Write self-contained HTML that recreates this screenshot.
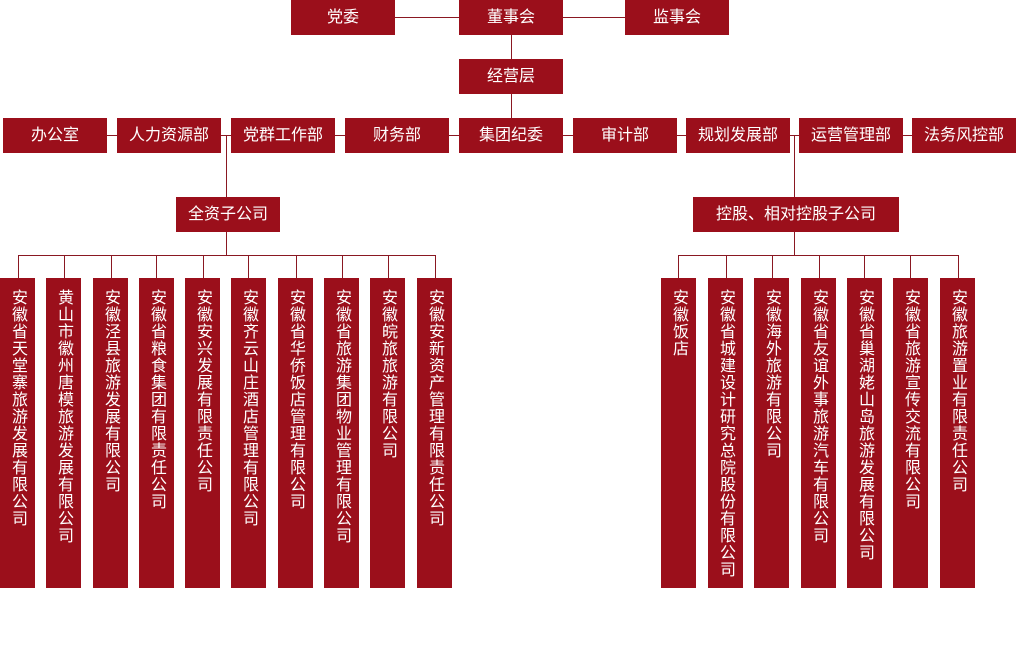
<!DOCTYPE html>
<html><head><meta charset="utf-8"><style>
body{margin:0;width:1018px;height:647px;background:#fff;position:relative;overflow:hidden;font-family:"Liberation Sans","Noto Sans CJK SC",sans-serif}
.b{position:absolute;background:#9b0f1b;color:#fff;font-size:16px;text-align:center;box-sizing:border-box}
.h{height:35px;line-height:35px;width:104px}
.v{top:278px;height:310px;width:35px;writing-mode:vertical-rl;padding-top:11px;line-height:35px;font-size:16px;letter-spacing:1px;text-align:left}
.l{position:absolute;background:#8a1822}
</style></head><body>
<!-- lines -->
<div class="l" style="left:395px;top:17px;width:64px;height:1px"></div>
<div class="l" style="left:563px;top:17px;width:62px;height:1px"></div>
<div class="l" style="left:511px;top:35px;width:1px;height:24px"></div>
<div class="l" style="left:511px;top:94px;width:1px;height:24px"></div>
<div class="l" style="left:3px;top:135px;width:1010px;height:1px"></div>
<div class="l" style="left:226px;top:135px;width:1px;height:62px"></div>
<div class="l" style="left:226px;top:231px;width:1px;height:24px"></div>
<div class="l" style="left:18px;top:255px;width:418px;height:1px"></div>
<div class="l" style="left:794px;top:135px;width:1px;height:62px"></div>
<div class="l" style="left:794px;top:231px;width:1px;height:24px"></div>
<div class="l" style="left:678px;top:255px;width:281px;height:1px"></div>
<div class="l" style="left:18px;top:255px;width:1px;height:23px"></div>
<div class="l" style="left:64px;top:255px;width:1px;height:23px"></div>
<div class="l" style="left:111px;top:255px;width:1px;height:23px"></div>
<div class="l" style="left:156px;top:255px;width:1px;height:23px"></div>
<div class="l" style="left:203px;top:255px;width:1px;height:23px"></div>
<div class="l" style="left:248px;top:255px;width:1px;height:23px"></div>
<div class="l" style="left:296px;top:255px;width:1px;height:23px"></div>
<div class="l" style="left:342px;top:255px;width:1px;height:23px"></div>
<div class="l" style="left:388px;top:255px;width:1px;height:23px"></div>
<div class="l" style="left:435px;top:255px;width:1px;height:23px"></div>
<div class="l" style="left:678px;top:255px;width:1px;height:23px"></div>
<div class="l" style="left:726px;top:255px;width:1px;height:23px"></div>
<div class="l" style="left:772px;top:255px;width:1px;height:23px"></div>
<div class="l" style="left:819px;top:255px;width:1px;height:23px"></div>
<div class="l" style="left:864px;top:255px;width:1px;height:23px"></div>
<div class="l" style="left:910px;top:255px;width:1px;height:23px"></div>
<div class="l" style="left:958px;top:255px;width:1px;height:23px"></div>
<!-- top -->
<div class="b h" style="left:291px;top:0">党委</div>
<div class="b h" style="left:459px;top:0">董事会</div>
<div class="b h" style="left:625px;top:0">监事会</div>
<div class="b h" style="left:459px;top:59px">经营层</div>
<div class="b h" style="left:3px;top:118px">办公室</div>
<div class="b h" style="left:117px;top:118px">人力资源部</div>
<div class="b h" style="left:231px;top:118px">党群工作部</div>
<div class="b h" style="left:345px;top:118px">财务部</div>
<div class="b h" style="left:459px;top:118px">集团纪委</div>
<div class="b h" style="left:573px;top:118px">审计部</div>
<div class="b h" style="left:686px;top:118px">规划发展部</div>
<div class="b h" style="left:799px;top:118px">运营管理部</div>
<div class="b h" style="left:912px;top:118px">法务风控部</div>
<div class="b h" style="left:176px;top:197px">全资子公司</div>
<div class="b h" style="left:693px;top:197px;width:206px">控股、相对控股子公司</div>
<!-- columns left -->
<div class="b v" style="left:0">安徽省天堂寨旅游发展有限公司</div>
<div class="b v" style="left:46px">黄山市徽州唐模旅游发展有限公司</div>
<div class="b v" style="left:93px">安徽泾县旅游发展有限公司</div>
<div class="b v" style="left:139px">安徽省粮食集团有限责任公司</div>
<div class="b v" style="left:185px">安徽安兴发展有限责任公司</div>
<div class="b v" style="left:231px">安徽齐云山庄酒店管理有限公司</div>
<div class="b v" style="left:278px">安徽省华侨饭店管理有限公司</div>
<div class="b v" style="left:324px">安徽省旅游集团物业管理有限公司</div>
<div class="b v" style="left:370px">安徽皖旅旅游有限公司</div>
<div class="b v" style="left:417px">安徽安新资产管理有限责任公司</div>
<!-- columns right -->
<div class="b v" style="left:661px">安徽饭店</div>
<div class="b v" style="left:708px">安徽省城建设计研究总院股份有限公司</div>
<div class="b v" style="left:754px">安徽海外旅游有限公司</div>
<div class="b v" style="left:801px">安徽省友谊外事旅游汽车有限公司</div>
<div class="b v" style="left:847px">安徽省巢湖姥山岛旅游发展有限公司</div>
<div class="b v" style="left:893px">安徽省旅游宣传交流有限公司</div>
<div class="b v" style="left:940px">安徽旅游置业有限责任公司</div>
</body></html>
